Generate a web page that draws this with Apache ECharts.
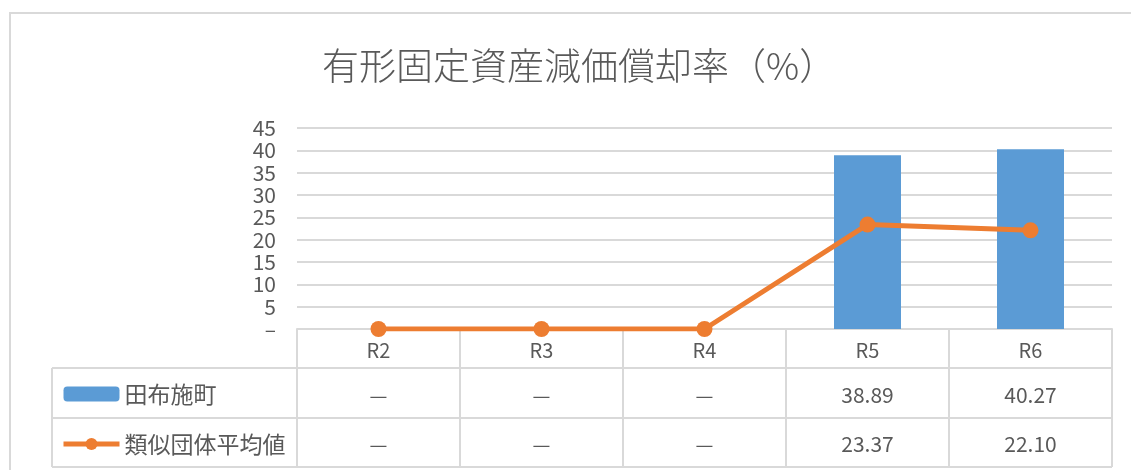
<!DOCTYPE html>
<html>
<head>
<meta charset="utf-8">
<script src="https://cdn.jsdelivr.net/npm/echarts@6/dist/echarts.min.js"></script>
<style>
  html, body { margin: 0; padding: 0; background: #fff; }
  #chart { width: 1131px; height: 470px; }
</style>
</head>
<body>
<div id="chart"></div>
<script>
// data
var years = ['R2', 'R3', 'R4', 'R5', 'R6'];
var townValues = [null, null, null, 38.89, 40.27];
var avgValues = [0, 0, 0, 23.37, 22.10];
var townLabels = ['—', '—', '—', '38.89', '40.27'];
var avgLabels = ['—', '—', '—', '23.37', '22.10'];

var FONT = '"Noto Sans CJK JP", "Noto Sans", sans-serif';
var TXT = '#595959';
var LINE = '#d9d9d9';

var chart = echarts.init(document.getElementById('chart'));
var option = {
  animation: false,
  textStyle: { fontFamily: FONT },
  title: {
    text: '有形固定資産減価償却率（%）',
    left: 317,
    top: 42,
    textStyle: { fontSize: 37, fontWeight: 300, color: TXT, fontFamily: FONT }
  },
  legend: {
    orient: 'vertical',
    left: 61,
    top: 380,
    height: 90,
    padding: 0,
    itemWidth: 56,
    itemHeight: 15,
    itemGap: 22,
    textStyle: { fontSize: 23, lineHeight: 28, color: TXT, fontFamily: FONT, padding: [0, 0, 0, 0] },
    data: [
      { name: '田布施町' },
      { name: '類似団体平均値', lineStyle: { width: 5 } }
    ]
  },
  grid: { left: 297, right: 19, top: 128, bottom: 141 },
  xAxis: {
    type: 'category',
    data: years,
    axisLine: { lineStyle: { color: LINE, width: 2 } },
    axisTick: { show: false },
    axisLabel: { fontSize: 20, color: TXT, margin: 11 }
  },
  yAxis: {
    type: 'value',
    min: 0,
    max: 45,
    interval: 5,
    axisLine: { show: false },
    axisTick: { show: false },
    splitLine: { lineStyle: { color: LINE, width: 2 } },
    axisLabel: {
      fontSize: 21,
      color: TXT,
      margin: 21,
      formatter: function (v) { return v === 0 ? '–' : v; }
    }
  },
  series: [
    {
      name: '田布施町',
      type: 'bar',
      data: townValues,
      barWidth: 67,
      itemStyle: { color: '#5B9BD5' }
    },
    {
      name: '類似団体平均値',
      type: 'line',
      data: avgValues,
      symbol: 'circle',
      symbolSize: 16,
      lineStyle: { color: '#ED7D31', width: 5 },
      itemStyle: { color: '#ED7D31' }
    }
  ]
};
chart.setOption(option);

// data table under the plot
var g = [];
var x0 = chart.convertToPixel({ xAxisIndex: 0 }, 0);
var x1 = chart.convertToPixel({ xAxisIndex: 0 }, 1);
var step = x1 - x0;
var left = x0 - step / 2;
var right = left + step * years.length;
var yAxis0 = 329, row1 = 368, row2 = 418, row3 = 467;

// outer border
g.push({ type: 'polyline', shape: { points: [[10, 470], [10, 13], [1131, 13]] }, style: { stroke: LINE, lineWidth: 2, fill: null } });

[row1, row2, row3].forEach(function (y) {
  g.push({ type: 'line', shape: { x1: 52, y1: y, x2: right, y2: y }, style: { stroke: LINE, lineWidth: 2 } });
});
g.push({ type: 'line', shape: { x1: 52, y1: row1, x2: 52, y2: row3 }, style: { stroke: LINE, lineWidth: 2 } });
for (var i = 0; i <= years.length; i++) {
  var xb = left + step * i;
  g.push({ type: 'line', shape: { x1: xb, y1: yAxis0, x2: xb, y2: row3 }, style: { stroke: LINE, lineWidth: 2 } });
}
function cellFont(t) { return (t === '—' ? '20px ' : '21px ') + FONT; }
years.forEach(function (c, i) {
  var xc = chart.convertToPixel({ xAxisIndex: 0 }, i);
  g.push({ type: 'text', x: xc, y: (row1 + row2) / 2 + 2, style: { text: townLabels[i], fill: TXT, font: cellFont(townLabels[i]), align: 'center', verticalAlign: 'middle' } });
  g.push({ type: 'text', x: xc, y: (row2 + row3) / 2 + 2, style: { text: avgLabels[i], fill: TXT, font: cellFont(avgLabels[i]), align: 'center', verticalAlign: 'middle' } });
});
chart.setOption({ graphic: g });
</script>
</body>
</html>
